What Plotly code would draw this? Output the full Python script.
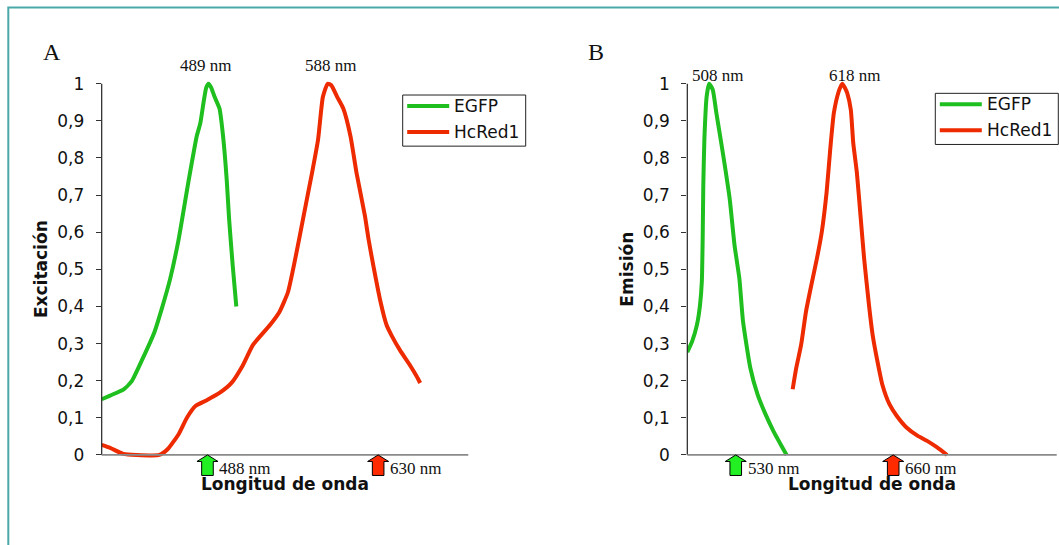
import plotly.graph_objects as go

W, H = 1059, 545

# Excitation spectra (normalised), wavelength in nm
exc_egfp_nm = [400, 407, 418, 425, 433, 444, 450, 457, 464, 472, 479, 482, 485, 487, 489, 491, 494, 498, 501, 504, 506, 509, 512]
exc_egfp_val = [0.150, 0.160, 0.176, 0.199, 0.252, 0.332, 0.394, 0.475, 0.581, 0.733, 0.858, 0.893, 0.955, 0.99, 1.0, 0.99, 0.964, 0.933, 0.858, 0.742, 0.635, 0.510, 0.40]

exc_hcred_nm = [400, 407, 418, 429, 448, 455, 464, 471, 478, 487, 498, 508, 517, 526, 540, 548, 555, 561, 568, 575, 580, 584,
                588, 591, 596, 601, 607, 612, 619, 622, 626, 632, 637, 641, 648, 657, 662, 665]
exc_hcred_val = [0.027, 0.019, 0.003, 0.0, 0.0, 0.016, 0.056, 0.101, 0.132, 0.147, 0.167, 0.194, 0.239, 0.297, 0.350, 0.386, 0.439, 0.528, 0.644, 0.760, 0.849, 0.964,
                 1.0, 0.996, 0.964, 0.933, 0.858, 0.760, 0.644, 0.581, 0.510, 0.412, 0.350, 0.323, 0.283, 0.239, 0.212, 0.194]

# Emission spectra (normalised), wavelength in nm
em_egfp_nm = [490, 494, 498, 500.5, 502, 502.7, 503.2, 504.1, 506, 508, 511, 514, 518, 521, 525, 529, 533, 536, 542, 548, 554, 561, 567, 572]
em_egfp_val = [0.277, 0.306, 0.351, 0.404, 0.467, 0.583, 0.725, 0.850, 0.966, 1.0, 0.984, 0.921, 0.841, 0.779, 0.690, 0.565, 0.475, 0.360, 0.235, 0.163, 0.114, 0.065, 0.029, 0.0]

em_hcred_nm = [577, 580, 584, 588, 593, 597, 601, 605, 608, 611, 615, 617, 618, 620, 622, 625, 627, 630, 633, 636, 640, 643, 647, 651,
               657, 663, 671, 680, 688, 696, 704.5]
em_hcred_val = [0.177, 0.235, 0.297, 0.386, 0.467, 0.529, 0.600, 0.707, 0.823, 0.921, 0.979, 0.995, 1.0, 0.99, 0.975, 0.930, 0.841, 0.761, 0.645, 0.529, 0.404, 0.324, 0.252, 0.190,
                0.136, 0.105, 0.074, 0.052, 0.038, 0.021, 0.0]

series_names = ["EGFP", "HcRed1"]
exc_peaks = [489, 588]
em_peaks = [508, 618]
exc_laser = [488, 630]
em_laser = [530, 660]

y_ticks = [0, 0.1, 0.2, 0.3, 0.4, 0.5, 0.6, 0.7, 0.8, 0.9, 1.0]
y_tick_text = ["0", "0,1", "0,2", "0,3", "0,4", "0,5", "0,6", "0,7", "0,8", "0,9", "1"]

x_range_exc = [400, 705]
x_range_em = [490, 795]

GREEN = "#1fbf1f"
RED = "#ee2b00"
GREEN_FILL = "#22f022"
RED_FILL = "#ff2a00"
SANS = "DejaVu Sans"
SERIF = "Liberation Serif"
INK = "#111111"

# panel geometry in pixels
A_LEFT, A_RIGHT = 101.7, 468.3
B_LEFT, B_RIGHT = 687.3, 1056.7
Y0_PX, Y1_PX = 454.3, 80.3
PAD_LO, PAD_HI = 0.07, 0.015
ppu = Y0_PX - Y1_PX
y_dom = [1 - (Y0_PX + PAD_LO * ppu) / H, 1 - (Y1_PX - PAD_HI * ppu) / H]


def px(x):
    return x / W


def py(y):
    return 1 - y / H


fig = go.Figure()

colors = [GREEN, RED]
exc_sets = [(exc_egfp_nm, exc_egfp_val), (exc_hcred_nm, exc_hcred_val)]
em_sets = [(em_egfp_nm, em_egfp_val), (em_hcred_nm, em_hcred_val)]

for name, col, (xs, ys) in zip(series_names, colors, exc_sets):
    fig.add_trace(go.Scatter(x=xs, y=ys, mode="lines", name=name,
                             line=dict(color=col, width=4, shape="spline", smoothing=0.5),
                             xaxis="x", yaxis="y", showlegend=False, hoverinfo="skip"))
for name, col, (xs, ys) in zip(series_names, colors, em_sets):
    fig.add_trace(go.Scatter(x=xs, y=ys, mode="lines", name=name,
                             line=dict(color=col, width=4, shape="spline", smoothing=0.5),
                             xaxis="x2", yaxis="y2", showlegend=False, hoverinfo="skip"))

yaxis_common = dict(range=[-PAD_LO, 1 + PAD_HI], domain=y_dom, tickvals=y_ticks, ticktext=y_tick_text,
                    ticks="outside", ticklen=5, tickwidth=1, tickcolor="#333333",
                    showline=False, showgrid=False, zeroline=False,
                    tickfont=dict(family=SANS, size=17, color=INK), ticklabelstandoff=8)
xaxis_common = dict(showline=False, showgrid=False, zeroline=False, showticklabels=False, ticks="")

fig.update_layout(
    width=W, height=H, margin=dict(l=0, r=0, t=0, b=0),
    paper_bgcolor="white", plot_bgcolor="white",
    xaxis=dict(domain=[px(A_LEFT), px(A_RIGHT)], range=x_range_exc, anchor="y", **xaxis_common),
    yaxis=dict(anchor="x", **yaxis_common),
    xaxis2=dict(domain=[px(B_LEFT), px(B_RIGHT)], range=x_range_em, anchor="y2", **xaxis_common),
    yaxis2=dict(anchor="x2", **yaxis_common),
    showlegend=False,
)

shapes = []
ann = []
# outer frame
shapes.append(dict(type="rect", xref="paper", yref="paper", x0=px(8.3), x1=1.02, y0=-0.02, y1=py(3.5),
                   line=dict(color="#4aa9a8", width=2), fillcolor="rgba(0,0,0,0)", layer="below"))

for xr, yr in (("x", "y"), ("x2", "y2")):
    # y axis line
    shapes.append(dict(type="line", xref=xr + " domain", yref=yr, x0=0, x1=0, y0=0, y1=1,
                       line=dict(color="#222222", width=1.2), layer="above"))
    # x axis line
    shapes.append(dict(type="line", xref=xr + " domain", yref=yr, x0=0, x1=1, y0=0, y1=0,
                       line=dict(color="#8a8a8a", width=1.8), layer="above"))

# block arrows marking laser lines / filters
ARROW_PATH = "M0,0 L10.5,-6.5 L5.8,-6.5 L5.8,-20.5 L-5.8,-20.5 L-5.8,-6.5 L-10.5,-6.5 Z"
for xr, yr, lines in (("x", "y", exc_laser), ("x2", "y2", em_laser)):
    for wl, fill in zip(lines, [GREEN_FILL, RED_FILL]):
        shapes.append(dict(type="path", xref=xr, yref=yr, xsizemode="pixel", ysizemode="pixel",
                           xanchor=wl, yanchor=0, path=ARROW_PATH, fillcolor=fill,
                           line=dict(color="#000000", width=1), layer="above"))

# legends: framed box with line samples
legend_boxes = [(402.7, 91.7), (935.3, 90.0)]
for bx, by in legend_boxes:
    shapes.append(dict(type="rect", xref="paper", yref="paper", x0=px(bx), x1=px(bx + 123), y0=py(by + 51.5), y1=py(by),
                       line=dict(color="#222222", width=1), fillcolor="white", layer="above"))
    for i, (name, col) in enumerate(zip(series_names, colors)):
        ey = by + 11 + i * 26.3
        shapes.append(dict(type="line", xref="paper", yref="paper", x0=px(bx + 4.5), x1=px(bx + 46.5), y0=py(ey), y1=py(ey),
                           line=dict(color=col, width=4), layer="above"))
        ann.append(dict(x=px(bx + 49.5), y=py(ey), xref="paper", yref="paper", text=name, showarrow=False,
                        xanchor="left", yanchor="middle", font=dict(family=SANS, size=17, color=INK)))

fig.update_layout(shapes=shapes)

serif_font = dict(family=SERIF, size=17, color=INK)
# laser-line labels
for xr, yr, lines in (("x", "y", exc_laser), ("x2", "y2", em_laser)):
    for wl in lines:
        ann.append(dict(x=wl, y=0, xref=xr, yref=yr, text=f"{wl} nm", showarrow=False, borderpad=0,
                        xanchor="left", yanchor="middle", xshift=11, yshift=-13.5, font=serif_font))

# peak labels
for xr, peaks, ypix, shifts in (("x", exc_peaks, 61.7, [-3.5, 2.5]), ("x2", em_peaks, 71.7, [8.5, 12])):
    for pk, sh in zip(peaks, shifts):
        ann.append(dict(x=pk, y=py(ypix), xref=xr, yref="paper", text=f"{pk} nm", showarrow=False,
                        xanchor="center", yanchor="middle", xshift=sh, font=serif_font))

# panel letters
for letter, lx in (("A", 52), ("B", 596)):
    ann.append(dict(x=px(lx), y=py(48), xref="paper", yref="paper", text=letter, showarrow=False,
                    xanchor="center", yanchor="middle", font=dict(family=SERIF, size=24, color=INK)))

# axis titles
title_font = dict(family=SANS, size=17, color=INK, weight="bold")
for left, right, ytitle in ((A_LEFT, A_RIGHT, "Excitación"), (B_LEFT, B_RIGHT, "Emisión")):
    ann.append(dict(x=px(left - 60), y=py((Y0_PX + Y1_PX) / 2), xref="paper", yref="paper", text=ytitle,
                    textangle=-90, showarrow=False, xanchor="center", yanchor="middle", font=title_font))
    ann.append(dict(x=px((left + right) / 2), y=py(484), xref="paper", yref="paper", text="Longitud de onda",
                    showarrow=False, borderpad=0, xanchor="center", yanchor="middle", font=title_font))

fig.update_layout(annotations=ann)

fig.write_html("out.html")
